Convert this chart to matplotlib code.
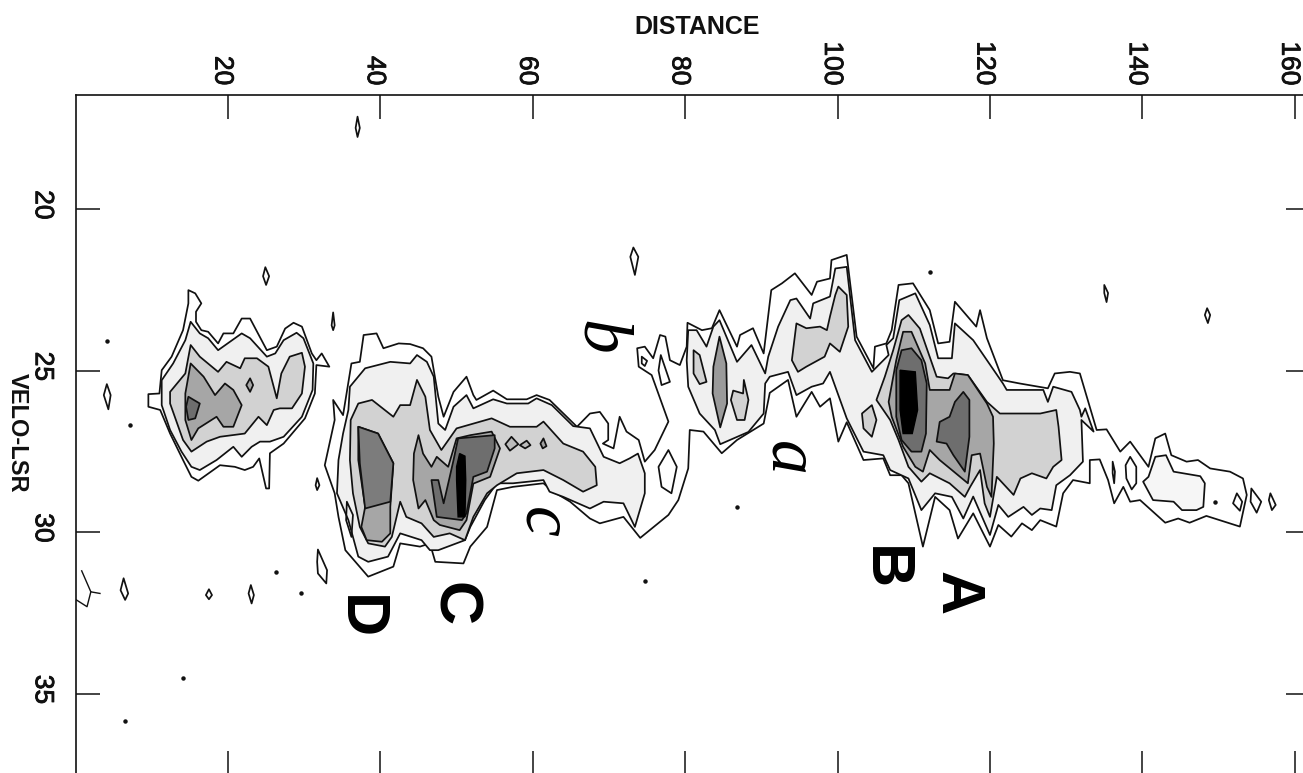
import matplotlib
matplotlib.use('Agg')
from matplotlib import pyplot as plt
from matplotlib import patheffects
from matplotlib.transforms import ScaledTranslation

# contour traces: distance / velocity of each closed line
outer_d = [36.2,37.3,37.8,39.5,40.4,42.4,43.9,45.6,46.7,47.6,48.3,49.6,51.3,52.2,52.6,54.8,56.6,59.2,60.5,62.2,65.8,67.5,68.8,69.9,69.9,69.2,70.6,71.4,72.3,73.9,74.7,76.0,77.8,76.0,75.6,73.9,73.7,74.7,75.8,76.7,77.4,78.0,79.3,80.2,80.3,82.2,83.5,84.5,86.8,87.2,88.9,90.3,91.3,92.7,94.4,96.6,97.3,99.0,99.2,101.2,102.5,104.7,104.9,106.4,107.1,108.0,109.9,112.1,113.2,114.7,115.4,118.2,118.7,119.6,121.7,123.9,127.6,128.5,130.5,131.8,134.0,135.3,137.1,138.4,140.8,141.7,143.0,143.8,145.8,147.3,148.9,151.5,153.2,153.7,152.8,148.4,146.2,144.7,143.0,139.7,138.4,137.5,136.3,135.5,134.4,133.1,133.1,130.9,129.6,128.7,126.6,125.5,124.2,122.8,121.1,120.0,117.8,115.8,114.7,112.8,111.2,109.3,108.4,106.9,106.0,103.4,101.2,100.1,99.0,97.7,96.6,94.6,93.5,91.1,90.3,86.8,84.8,82.4,80.6,80.4,79.1,77.8,74.1,71.9,68.8,67.5,64.9,62.7,61.4,57.4,55.3,54.0,51.8,50.9,47.2,46.5,45.2,42.6,41.7,38.4,35.4,34.5,34.0,32.7,34.0,33.8,35.1]
outer_v = [24.78,24.73,23.9,23.85,24.31,24.16,24.18,24.31,24.57,25.81,26.43,25.66,25.19,25.76,25.91,25.62,25.89,25.89,25.76,25.91,26.74,26.33,26.28,26.64,27.15,27.26,27.41,26.43,26.89,27.15,27.82,27.46,26.58,25.4,25.14,24.88,24.31,24.26,24.62,23.9,23.95,24.68,24.83,24.26,23.52,23.75,23.69,23.13,24.26,23.9,23.69,24.47,22.51,22.3,21.99,22.66,22.25,22.15,21.58,21.42,23.95,24.93,24.26,24.16,23.75,22.35,22.3,23.13,24.16,24.11,22.87,23.64,23.13,24.0,25.3,25.4,25.55,25.09,25.04,25.09,26.84,26.82,27.51,27.2,27.98,27.1,26.95,27.62,27.82,27.77,28.03,28.13,28.34,28.85,29.83,29.5,29.71,29.58,29.71,29.01,29.06,28.6,29.11,28.39,27.75,27.77,28.49,28.39,28.8,29.83,29.63,29.94,29.73,30.14,29.78,30.45,29.42,30.2,29.32,28.91,30.45,28.49,28.24,28.24,27.72,27.77,26.6,27.2,25.86,26.12,25.66,26.43,25.29,25.69,26.64,27.15,27.56,26.89,26.84,28.03,29.01,29.47,30.18,29.53,29.73,29.58,29.06,28.75,28.49,28.6,28.7,29.84,30.45,30.97,30.92,30.35,30.45,30.35,31.07,31.38,30.56,29.53,28.8,27.93,26.53,25.91,26.38]

blob1_outer_d = [14.8,15.7,16.5,15.8,15.8,16.5,17.4,18.7,19.4,20.7,21.8,22.9,25.1,26.4,27.5,28.6,29.7,31.0,31.6,32.3,33.3,31.6,31.4,30.1,27.3,25.5,25.4,25.0,24.1,23.3,22.2,20.9,18.95,16.1,15.2,14.1,12.4,11.1,9.55,9.55,11.0,11.3,12.6,14.1,14.8]
blob1_outer_v = [22.51,22.61,22.92,23.18,23.49,23.75,23.8,24.16,23.85,23.85,23.39,23.39,24.37,24.26,23.7,23.52,23.64,24.47,24.68,24.47,24.88,24.83,25.71,26.48,27.26,27.56,28.65,28.65,27.72,27.98,28.08,27.98,27.93,28.41,28.29,27.77,26.95,26.22,26.12,25.73,25.71,24.99,24.57,23.75,22.92]
blob1_l2_d = [15.1,16.3,17.4,18.7,21.8,22.9,25.1,26.2,27.3,29.0,29.9,31.2,31.1,29.7,27.3,25.5,24.2,23.1,21.8,20.7,18.5,16.3,15.2,13.9,12.4,11.3,11.3,12.8,14.4]
blob1_l2_v = [23.49,23.85,24.0,24.37,23.85,24.0,24.57,24.47,24.06,23.83,24.0,24.78,25.6,26.43,27.05,27.2,27.2,27.36,27.67,27.36,27.77,28.08,27.98,27.51,26.84,26.07,25.3,24.78,24.06]
blob1_l3_d = [15.1,16.3,18.7,19.8,21.6,22.2,23.8,25.3,26.4,27.0,28.1,29.7,30.1,29.7,28.4,26.8,26.0,25.1,24.0,22.2,18.95,17.2,15.2,14.1,12.4,12.4,14.4]
blob1_l3_v = [24.21,24.57,25.04,24.73,24.93,24.62,24.62,24.88,25.86,25.09,24.57,24.45,24.88,25.71,26.17,26.17,26.22,26.69,26.43,26.95,27.05,27.2,27.51,27.15,26.02,25.66,25.09]
blob1_l4_d = [15.1,16.8,18.3,19.6,20.7,21.8,20.7,19.4,18.5,16.1,15.2,14.4,14.4]
blob1_l4_v = [24.78,25.19,25.76,25.4,25.6,26.07,26.74,26.74,26.43,26.79,27.15,26.53,25.71]
blob1_l5_d = [14.8,16.3,15.7,14.8,14.5]
blob1_l5_v = [25.81,26.02,26.48,26.53,26.12]
blob1_ring_d = [22.9,23.3,22.9,22.4]
blob1_ring_v = [25.24,25.45,25.66,25.45]

dc_l2_d = [36.0,38.0,41.3,43.9,44.8,46.1,47.0,47.6,48.5,49.6,51.3,52.2,54.8,56.6,59.4,60.5,62.5,65.3,67.5,69.3,71.4,72.7,73.8,74.7,74.7,73.4,71.9,69.3,67.5,64.0,62.2,61.4,57.4,55.3,53.7,51.8,51.1,47.6,46.5,45.4,42.6,41.0,38.4,37.1,35.8,34.3,34.5,35.1,35.8]
dc_l2_v = [25.5,24.93,24.73,24.78,24.52,24.73,25.19,26.64,26.84,26.12,25.76,26.17,25.89,26.02,26.02,25.86,26.07,26.72,26.79,27.67,27.87,27.72,27.57,28.18,28.8,29.84,29.11,29.06,29.27,28.91,28.75,28.39,28.49,28.49,29.01,29.84,30.25,30.56,30.56,30.25,30.04,30.76,30.92,30.76,29.63,28.8,27.77,26.95,26.22]
dc_l3_d = [37.1,38.9,41.7,42.6,43.9,44.8,45.9,46.5,48.0,50.0,54.6,57.0,60.5,61.4,64.0,66.6,68.2,68.4,66.6,64.0,61.4,57.9,55.3,54.0,52.2,51.1,49.1,47.0,45.4,43.4,42.6,41.5,40.6,38.4,37.3,36.4,36.0,36.1]
dc_l3_v = [26.02,25.91,26.43,26.07,26.07,25.29,25.81,26.84,27.46,26.79,26.48,26.74,26.74,26.58,27.26,27.51,27.98,28.55,28.75,28.39,28.08,28.18,28.55,28.8,29.53,30.25,30.04,30.15,29.73,29.53,29.06,30.15,30.45,30.35,29.84,28.8,27.77,26.53]
d_l4_d = [37.1,39.7,41.7,41.3,41.3,40.2,38.2,37.5,38.0,37.1]
d_l4_v = [26.74,26.95,27.87,29.22,30.04,30.3,30.25,29.84,29.22,27.77]
d_l5_d = [37.1,39.7,41.7,41.3,38.0,37.3]
d_l5_v = [26.74,26.95,27.87,29.06,29.27,27.87]
c_l4_d = [45.0,45.6,46.7,47.4,48.9,50.0,51.8,54.6,55.7,54.4,52.2,51.3,50.4,47.8,47.0,45.9,45.0,44.3,44.4]
c_l4_v = [27.0,27.57,27.98,27.67,27.98,27.1,27.0,26.89,27.41,28.29,28.5,29.63,29.94,29.78,29.63,29.01,29.27,28.39,27.57]
c_l5_d = [50.2,55.0,55.0,54.0,52.2,51.3,50.7,47.4,46.7,47.6,48.3,49.1,49.6]
c_l5_v = [27.1,27.0,27.41,28.13,28.29,29.42,29.63,29.53,28.39,28.39,29.11,28.29,27.77]
c_l6_d = [50.4,51.1,51.2,51.1,50.2,50.0,50.0]
c_l6_v = [27.57,27.65,28.39,29.53,29.53,28.39,27.98]
tail1_d, tail1_v = [57.2,58.1,57.0,56.4], [27.05,27.28,27.48,27.28]
tail2_d, tail2_v = [59.2,59.7,59.0,58.3], [27.17,27.31,27.41,27.31]
tail3_d, tail3_v = [61.4,61.8,61.3,61.0], [27.1,27.34,27.41,27.26]

main_l2_d = [80.4,81.5,82.8,83.7,84.5,86.8,88.7,90.5,90.9,92.2,93.8,94.6,96.4,96.8,99.0,99.7,101.2,102.3,104.5,106.7,106.4,107.3,108.1,110.2,112.1,113.2,115.0,115.4,117.8,121.7,122.2,127.0,127.6,128.3,130.7,131.8,132.0,132.5,133.6,132.0,132.2,130.5,128.7,128.1,126.6,125.5,124.4,122.4,121.1,120.0,117.8,116.5,115.0,112.8,111.0,109.3,106.9,106.0,103.4,101.2,99.0,98.1,96.6,94.6,93.5,91.1,90.5,90.3,88.3,84.6,83.9,81.9,80.4,80.2]
main_l2_v = [23.75,23.75,24.26,23.64,23.44,24.73,24.21,25.09,24.57,23.64,22.82,22.77,23.39,22.92,22.71,21.84,21.79,24.06,25.04,24.52,24.21,24.0,22.82,22.61,23.59,24.62,24.62,23.54,24.06,25.4,25.6,25.6,25.97,25.5,25.66,26.22,26.43,26.17,26.89,26.53,27.82,28.24,28.55,29.32,29.27,29.47,29.22,29.53,29.16,30.09,28.9,29.58,28.91,28.8,29.32,28.34,28.08,27.62,27.51,26.48,25.04,25.4,25.5,25.76,25.04,25.19,25.4,26.33,26.9,27.28,26.84,26.33,25.5,24.68]
main_l3_d = [108.4,109.3,110.8,113.0,114.5,115.2,117.1,119.6,121.3,123.9,126.6,128.7,129.0,129.4,128.3,127.4,125.5,124.0,123.1,120.9,120.0,119.3,118.7,117.4,116.7,114.7,112.1,111.0,109.3,108.0,106.9,105.1,106.2,107.3]
main_l3_v = [23.44,23.28,23.7,25.19,25.24,25.09,25.14,25.97,26.33,26.33,26.33,26.22,26.74,27.77,27.98,28.34,28.18,28.34,28.85,28.29,29.53,29.11,28.08,28.6,28.91,28.49,28.18,28.44,27.98,27.15,26.53,25.91,25.19,24.37]
main_oval_d = [104.5,105.1,104.5,103.4,103.2]
main_oval_v = [26.07,26.53,27.05,26.79,26.33]
main_l4_d = [108.6,109.7,111.5,112.1,114.7,115.4,117.1,119.6,120.4,120.5,120.2,119.6,118.7,117.6,117.1,115.0,113.4,112.1,111.2,110.2,108.6,107.1,106.7,107.7]
main_l4_v = [23.8,23.8,24.78,25.6,25.6,25.09,25.14,26.02,26.43,27.26,28.91,28.6,27.57,27.62,28.49,28.08,27.77,27.46,28.13,27.98,27.36,26.43,25.97,24.68]
b_l5_d = [108.4,109.7,111.0,111.7,111.6,111.0,109.7,108.4,107.7,107.7]
b_l5_v = [24.37,24.31,24.68,25.4,26.95,27.51,27.51,27.15,26.43,24.99]
a_l5_d = [116.5,117.3,117.3,116.7,115.2,114.3,113.0,113.4,114.7,115.4]
a_l5_v = [25.66,25.91,27.05,28.13,27.62,27.26,27.2,26.59,26.43,25.97]
b_l6_d = [108.2,110.2,110.5,109.8,108.6,108.2]
b_l6_v = [24.99,25.04,26.22,26.95,26.95,26.22]

cloud1_d, cloud1_v = [81.1,81.9,82.8,81.9,81.1], [24.37,24.52,25.35,25.42,25.09]
cloud2_d, cloud2_v = [84.5,85.4,85.5,84.6,83.6,83.7], [23.95,24.78,26.02,26.76,25.71,24.88]
cloud3_d, cloud3_v = [87.7,88.3,87.8,86.8,86.0,86.3,87.6], [25.29,25.91,26.53,26.53,25.91,25.62,25.71]
cloud4_d = [100.1,101.2,101.4,100.3,99.0,98.3,95.9,94.8,94.0,94.6,95.9,97.7,98.6,99.0,99.7]
cloud4_v = [22.4,22.66,23.64,24.42,24.16,24.57,24.88,25.04,24.68,23.54,23.69,23.64,23.75,23.33,22.66]

tail_l2_d = [141.7,143.1,144.1,147.6,148.2,148.0,147.1,145.2,144.1,141.4,140.1,140.8]
tail_l2_v = [27.67,27.62,28.13,28.27,28.49,29.22,29.32,29.32,29.06,29.01,28.44,28.29]

# small closed lines with no fill
rings = [
    ([35.6,36.4,36.2,35.5], [29.06,29.47,30.15,29.63]),
    ([74.3,75.0,74.7,74.3], [24.57,24.7,24.86,24.78]),
    ([76.8,78.0,76.9,76.5], [24.52,25.35,25.45,25.0]),
    ([73.2,73.85,73.4,72.8], [21.19,21.48,22.04,21.48]),
    ([77.8,78.9,78.2,76.9,76.5], [27.46,27.98,28.8,28.6,27.98]),
    ([138.4,139.2,139.2,138.6,137.9,137.8], [27.67,27.98,28.49,28.68,28.34,27.93]),
    ([136.1,136.4,136.3,136.1], [27.82,28.13,28.49,28.18]),
    ([152.4,153.1,152.8,151.9], [28.8,29.06,29.34,29.11]),
    ([154.3,155.6,155.0,154.2], [28.65,29.06,29.4,29.06]),
    ([156.8,157.5,157.0,156.6], [28.8,29.16,29.32,29.01]),
    ([37.0,37.3,37.0,36.75], [17.14,17.49,17.77,17.49]),
    ([24.9,25.4,25.0,24.6], [21.8,22.08,22.35,22.08]),
    ([33.8,34.0,33.8,33.6], [23.2,23.6,23.75,23.6]),
    ([135.0,135.5,135.3,135.0], [22.35,22.6,22.88,22.6]),
    ([148.5,148.9,148.6,148.2], [23.07,23.28,23.53,23.28]),
    ([4.1,4.6,4.3,3.7], [25.42,25.76,26.2,25.76]),
    ([31.7,32.0,31.7,31.5], [28.33,28.55,28.7,28.55]),
    ([31.8,33.0,32.9,31.8,31.7], [30.54,31.18,31.59,31.28,30.92]),
    ([6.3,6.9,6.5,5.9], [31.43,31.9,32.1,31.8]),
    ([17.5,17.9,17.5,17.1], [31.77,31.95,32.08,31.95]),
    ([23.0,23.4,23.1,22.7], [31.64,31.95,32.21,31.9]),
]
fork1_d, fork1_v = [0.8,2.0,3.2], [31.2,31.85,31.9]
fork2_d, fork2_v = [2.0,1.5,0.1], [31.85,32.31,32.1]
spot_d = [112.1,86.8,74.7,7.1,4.1,149.5,26.3,29.6,14.1,6.5]
spot_v = [21.95,29.23,31.5,26.7,24.1,29.08,31.24,31.88,34.53,35.84]

dist_ticks = [20,40,60,80,100,120,140,160]
velo_ticks = [20,25,30,35]
letters = ['A','B','C','D']
letter_d = [115.5,106.0,49.5,37.1]
letter_v = [31.88,31.12,32.22,32.62]
cloud_names = ['a','b','c']
cloud_d = [93.4,68.6,61.1]
cloud_v = [27.72,23.96,29.69]

plt.rcParams['font.family'] = ['Liberation Sans', 'DejaVu Sans']
INK = '#111111'
L2, L3, L4, L5 = '#f0f0f0', '#d2d2d2', '#a6a6a6', '#6e6e6e'

fig = plt.figure(figsize=(13.03, 7.73), dpi=100)
ax = fig.add_axes([75.6/1303, -2/773, 1234.4/1303, 680/773])
ax.set_xlim(0, 162)
ax.set_ylim(37.52, 16.47)

def contour(d, v, shade='none'):
    ax.fill(d, v, facecolor=shade, edgecolor=INK, linewidth=1.25, joinstyle='round')

# lowest level first, darker levels go on top
contour(outer_d, outer_v)
contour(blob1_outer_d, blob1_outer_v)
contour(blob1_l2_d, blob1_l2_v, L2)
contour(blob1_l3_d, blob1_l3_v, L3)
contour(blob1_l4_d, blob1_l4_v, L4)
contour(blob1_l5_d, blob1_l5_v, L5)
contour(blob1_ring_d, blob1_ring_v, L4)
contour(dc_l2_d, dc_l2_v, L2)
contour(dc_l3_d, dc_l3_v, L3)
contour(d_l4_d, d_l4_v, L4)
contour(d_l5_d, d_l5_v, '#7c7c7c')
contour(c_l4_d, c_l4_v, L4)
contour(c_l5_d, c_l5_v, L5)
ax.fill(c_l6_d, c_l6_v, color='black')
contour(tail1_d, tail1_v, '#bcbcbc')
contour(tail2_d, tail2_v, '#bcbcbc')
contour(tail3_d, tail3_v, '#a0a0a0')
contour(main_l2_d, main_l2_v, L2)
contour(main_l3_d, main_l3_v, L3)
contour(main_oval_d, main_oval_v, L3)
contour(main_l4_d, main_l4_v, L4)
contour(b_l5_d, b_l5_v, L5)
contour(a_l5_d, a_l5_v, L5)
ax.fill(b_l6_d, b_l6_v, color='black')
contour(cloud1_d, cloud1_v, L3)
contour(cloud2_d, cloud2_v, '#9a9a9a')
contour(cloud3_d, cloud3_v, L3)
contour(cloud4_d, cloud4_v, L3)
contour(tail_l2_d, tail_l2_v, '#f6f6f6')
for d, v in rings:
    contour(d, v)
ax.plot(fork1_d, fork1_v, color=INK, lw=1.0)
ax.plot(fork2_d, fork2_v, color=INK, lw=1.0)
ax.plot(spot_d, spot_v, ls='none', marker='o', ms=2.2, color=INK)

for name, d, v in zip(letters, letter_d, letter_v):
    ax.text(d, v, name, rotation=270, fontsize=44, fontweight='bold', ha='center', va='center', color='black')
for name, d, v in zip(cloud_names, cloud_d, cloud_v):
    ax.text(d, v, name, rotation=270, fontsize=50, family='Liberation Serif', style='italic', ha='center', va='center', color='black')

# axes: ticks point inward on all four sides, labels only on top and left
ax.xaxis.tick_top()
ax.xaxis.set_label_position('top')
ax.set_xticks(dist_ticks)
ax.set_yticks(velo_ticks)
ax.tick_params(axis='both', which='major', direction='in', length=17, width=1.1, color=INK,
               top=True, bottom=True, left=True, right=True, labelsize=19, labelcolor=INK)
ax.tick_params(axis='x', pad=7, labelrotation=270)
ax.tick_params(axis='y', pad=15, labelrotation=270)
# scan thickens the digits a little
thick = [patheffects.withStroke(linewidth=0.6, foreground=INK)]
for lab in ax.get_xticklabels():
    lab.set_path_effects(thick)
    lab.set_transform(lab.get_transform() + ScaledTranslation(-4/72, 0, fig.dpi_scale_trans))
for lab in ax.get_yticklabels():
    lab.set_path_effects(thick)
    lab.set_verticalalignment('center')
    lab.set_transform(lab.get_transform() + ScaledTranslation(0, 3/72, fig.dpi_scale_trans))
for side in ax.spines.values():
    side.set_linewidth(1.2)
    side.set_color(INK)

fig.text(697/1303, 1-27/773, 'DISTANCE', fontsize=18, fontweight='bold', ha='center', va='center', color=INK)
fig.text(17/1303, 1-433/773, 'VELO-LSR', rotation=270, fontsize=17, fontweight='bold', ha='center', va='center', color=INK)

fig.savefig('out.png', dpi=100, facecolor='white')
